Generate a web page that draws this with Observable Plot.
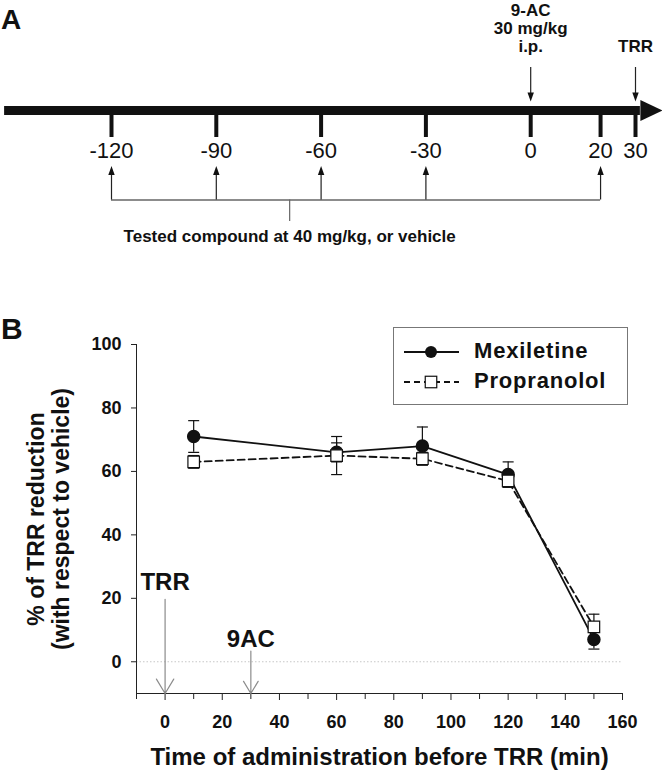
<!DOCTYPE html>
<html>
<head>
<meta charset="utf-8">
<script src="https://cdn.jsdelivr.net/npm/d3@7"></script>
<script src="https://cdn.jsdelivr.net/npm/@observablehq/plot@0.6"></script>
<style>
  html, body { margin: 0; padding: 0; background: #fff; }
  body { font-family: "Liberation Sans", Arial, Helvetica, sans-serif; color: #111; }
  #wrap { position: relative; width: 662px; height: 771px; overflow: hidden; }
  #wrap svg { display: block; }
  .letter { position: absolute; font-weight: bold; line-height: 1; color: #111; }
  #legend { position: absolute; left: 393px; top: 327px; width: 235px; height: 78px;
            border: 1px solid #777; background: #fff; box-sizing: border-box; }
  #legend .sw { position: absolute; left: 9px; width: 60px; height: 20px; }
  #legend .lab { position: absolute; left: 80px; font-weight: bold; font-size: 22px;
                 letter-spacing: 0.8px; line-height: 24px; white-space: nowrap; }
</style>
</head>
<body>
<div id="wrap"></div>
<script>
// ---------- Panel A: schedule ----------
const scheduleTicks = [-120, -90, -60, -30, 0, 20, 30];
const scheduleTickLabels = ["-120", "-90", "-60", "-30", "0", "20", "30"];
const compoundTimes = [-120, -90, -60, -30, 20];
const acTime = [0];
const trrTime = [30];
const acLabel = "9-AC\n30 mg/kg\ni.p.";
const trrLabel = "TRR";
const compoundCaption = "Tested compound at 40 mg/kg, or vehicle";
const captionTime = [-69];
const timelineExtent = [-150.6, 31.4, 37.7]; // start, head base, tip (minutes)

// ---------- Panel B: data ----------
const times = [10, 60, 90, 120, 150];
const mexileMean = [71, 66, 68, 59, 7];
const mexileErr = [5, 3, 6, 4, 3];
const propraMean = [63, 65, 64, 57, 11];
const propraErr = [2, 6, 2, 2, 4];
const seriesNames = ["Mexiletine", "Propranolol"];
const yTicks = [0, 20, 40, 60, 80, 100];
const xMajorTicks = [0, 20, 40, 60, 80, 100, 120, 140, 160];
const xMinorTicks = [-10, 10, 30, 50, 70, 90, 110, 130, 150];
const xDomain = [-10, 160];
const yDomain = [-10, 100];
const eventTimes = [0, 30];
const eventLabels = ["TRR", "9AC"];
const eventLabelY = [25, 7.2];
const eventArrowTop = [19.7, 3.4];
const yTitle = "% of TRR reduction\n(with respect to vehicle)";
const xTitle = "Time of administration before TRR (min)";

const FONT = '"Liberation Sans", Arial, Helvetica, sans-serif';

// custom symbols
const headRight = { draw(ctx) { ctx.moveTo(0, 0); ctx.lineTo(-22, -10.5); ctx.lineTo(-22, 10.5); ctx.closePath(); } };
const headUp = { draw(ctx) { ctx.moveTo(0, 0); ctx.lineTo(-3.2, 9); ctx.lineTo(3.2, 9); ctx.closePath(); } };
const headDown = { draw(ctx) { ctx.moveTo(0, 0); ctx.lineTo(-3.2, -9); ctx.lineTo(3.2, -9); ctx.closePath(); } };
const capSymbol = { draw(ctx, size) { const w = Math.sqrt(size / Math.PI); ctx.moveTo(-w, 0); ctx.lineTo(w, 0); } };

const wrap = document.getElementById("wrap");

// Panel A: vertical positions are layout rows in pixels (identity y scale)
const rowLine = 110, rowTickTop = 115, rowTickBottom = 137, rowLabel = 150,
      rowBracket = 199.5, rowUpTip = 165.5, rowStemEnd = 221, rowCaption = 236.5,
      rowDownTop = 67, rowDownTip = 101, rowAcTop = 3, rowTrrTop = 39.5;

const panelA = Plot.plot({
  width: 662, height: 260,
  marginLeft: 111, marginRight: 27, marginTop: 0, marginBottom: 0,
  x: { domain: [-120, 30], axis: null },
  y: { domain: [0, 260], range: [0, 260], axis: null },
  style: { fontFamily: FONT, fontSize: "17px", color: "#111", background: "white" },
  marks: [
    Plot.ruleY([rowLine], { x1: timelineExtent[0], x2: timelineExtent[1], stroke: "#111", strokeWidth: 9 }),
    Plot.dot([timelineExtent[2]], { x: d => d, y: rowLine, symbol: headRight, fill: "#111", stroke: "none" }),
    Plot.ruleX(scheduleTicks, { x: d => d, y1: rowTickTop, y2: rowTickBottom, stroke: "#111", strokeWidth: 4 }),
    Plot.text(scheduleTicks, { x: d => d, y: rowLabel, text: (d, i) => scheduleTickLabels[i], fontSize: 22, fontWeight: "normal", fill: "#111" }),
    // tested compound arrows
    Plot.ruleY([rowBracket], { x1: compoundTimes[0], x2: compoundTimes[compoundTimes.length - 1], stroke: "#666", strokeWidth: 1.5 }),
    Plot.ruleX(compoundTimes, { x: d => d, y1: rowUpTip + 6, y2: rowBracket, stroke: "#222", strokeWidth: 1.2 }),
    Plot.dot(compoundTimes, { x: d => d, y: rowUpTip, symbol: headUp, fill: "#111", stroke: "none" }),
    Plot.ruleX(captionTime, { x: d => d, y1: rowBracket, y2: rowStemEnd, stroke: "#666", strokeWidth: 1.2 }),
    Plot.text([compoundCaption], { x: captionTime[0], y: rowCaption, fontSize: 17, fontWeight: "bold", fill: "#111" }),
    // 9-AC and TRR arrows
    Plot.ruleX([...acTime, ...trrTime], { x: d => d, y1: rowDownTop, y2: rowDownTip - 6, stroke: "#222", strokeWidth: 1.2 }),
    Plot.dot([...acTime, ...trrTime], { x: d => d, y: rowDownTip, symbol: headDown, fill: "#111", stroke: "none" }),
    Plot.text([acLabel], { x: acTime[0], y: rowAcTop, lineAnchor: "top", lineHeight: 1.05, fontSize: 17, fontWeight: "bold", fill: "#111" }),
    Plot.text([trrLabel], { x: trrTime[0], y: rowTrrTop, lineAnchor: "top", fontSize: 17, fontWeight: "bold", fill: "#111" })
  ]
});
wrap.appendChild(panelA);

// Panel B
const mexRows = times.map((t, i) => ({ t, v: mexileMean[i], e: mexileErr[i] }));
const proRows = times.map((t, i) => ({ t, v: propraMean[i], e: propraErr[i] }));
const events = eventTimes.map((t, i) => ({ t, label: eventLabels[i], ly: eventLabelY[i], top: eventArrowTop[i] }));

const errMarks = rows => [
  Plot.ruleX(rows, { x: "t", y1: d => d.v - d.e, y2: d => d.v + d.e, stroke: "#111", strokeWidth: 1.2 }),
  Plot.dot(rows, { x: "t", y: d => d.v + d.e, symbol: capSymbol, r: 5.5, stroke: "#111", strokeWidth: 1.2, fill: "none" }),
  Plot.dot(rows, { x: "t", y: d => d.v - d.e, symbol: capSymbol, r: 5.5, stroke: "#111", strokeWidth: 1.2, fill: "none" })
];

const panelB = Plot.plot({
  width: 662, height: 511,
  marginLeft: 136, marginRight: 40, marginTop: 84, marginBottom: 78,
  x: { domain: xDomain },
  y: { domain: yDomain },
  style: { fontFamily: FONT, fontSize: "18px", fontWeight: "bold", color: "#111", background: "white" },
  marks: [
    Plot.ruleY([0], { stroke: "#c8c8c8", strokeWidth: 1.2, strokeDasharray: "1.5,2" }),
    Plot.axisY({ ticks: yTicks, tickSize: 5, tickPadding: 10, fontSize: 18, fontWeight: "bold", label: null, stroke: "#222" }),
    Plot.axisX({ ticks: xMajorTicks, tickSize: 7, tickPadding: 15, fontSize: 18, fontWeight: "bold", label: null, stroke: "#222" }),
    Plot.axisX({ ticks: xMinorTicks, tickSize: 6, tickFormat: () => "", label: null, stroke: "#222" }),
    Plot.ruleX([xDomain[0]], { stroke: "#222", strokeWidth: 1 }),
    Plot.ruleY([yDomain[0]], { stroke: "#222", strokeWidth: 1 }),
    // event arrows
    Plot.arrow(events, { x1: "t", x2: "t", y1: "top", y2: yDomain[0], stroke: "#8c8c8c", strokeWidth: 1.2, headAngle: 62, headLength: 21 }),
    Plot.text(events, { x: "t", y: "ly", text: "label", fontSize: 24, fontWeight: "bold", fill: "#111" }),
    // series lines
    Plot.line(proRows, { x: "t", y: "v", stroke: "#111", strokeWidth: 1.8, strokeDasharray: "7,4" }),
    Plot.line(mexRows, { x: "t", y: "v", stroke: "#111", strokeWidth: 1.8 }),
    ...errMarks(mexRows),
    ...errMarks(proRows),
    Plot.dot(mexRows, { x: "t", y: "v", r: 6, fill: "#111", stroke: "#111" }),
    Plot.dot(proRows, { x: "t", y: "v", symbol: "square", r: 6.5, fill: "white", stroke: "#111", strokeWidth: 1.2 }),
    // axis titles
    Plot.text([yTitle], { frameAnchor: "left", rotate: -90, dx: -88.5, textAnchor: "middle", lineAnchor: "middle", lineHeight: 1.09, fontSize: 23, fontWeight: "bold", fill: "#111" }),
    Plot.text([xTitle], { frameAnchor: "bottom", dy: 63.5, textAnchor: "middle", lineAnchor: "middle", fontSize: 24, fontWeight: "bold", fill: "#111" })
  ]
});
wrap.appendChild(panelB);

// Panel letters
const letterA = document.createElement("div");
letterA.className = "letter"; letterA.textContent = "A";
letterA.style.cssText = "left:1px;top:6px;font-size:28px;";
wrap.appendChild(letterA);
const letterB = document.createElement("div");
letterB.className = "letter"; letterB.textContent = "B";
letterB.style.cssText = "left:1px;top:314px;font-size:30px;";
wrap.appendChild(letterB);

// Legend
const legend = document.createElement("div");
legend.id = "legend";
const swatches = [
  '<svg class="sw" viewBox="0 0 60 20"><line x1="1" y1="10" x2="56" y2="10" stroke="#111" stroke-width="1.8"/><circle cx="28" cy="10" r="6" fill="#111"/></svg>',
  '<svg class="sw" viewBox="0 0 60 20"><line x1="1" y1="10" x2="56" y2="10" stroke="#111" stroke-width="1.8" stroke-dasharray="6,4"/><rect x="22.25" y="4.25" width="11.5" height="11.5" fill="#fff" stroke="#111" stroke-width="1.2"/></svg>'
];
const rowCenters = [24, 54];
seriesNames.forEach((name, i) => {
  const sw = document.createElement("div");
  sw.innerHTML = swatches[i];
  const s = sw.firstChild;
  s.style.top = (rowCenters[i] - 10) + "px";
  legend.appendChild(s);
  const lab = document.createElement("div");
  lab.className = "lab";
  lab.textContent = name;
  lab.style.top = (rowCenters[i] - 13) + "px";
  legend.appendChild(lab);
});
wrap.appendChild(legend);
</script>
</body>
</html>
